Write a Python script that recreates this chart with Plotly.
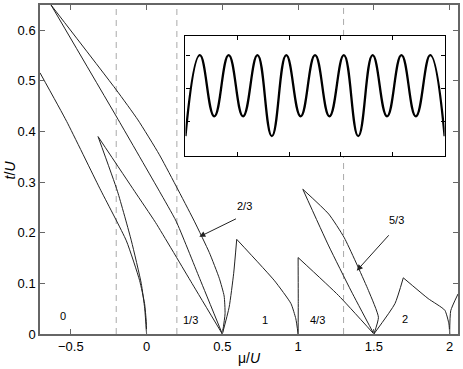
import plotly.graph_objects as go

# ---- phase boundaries (mu/U, t/U) ----
vac_mu = [-0.703, -0.527, -0.309, -0.133, -0.046, -0.013, -0.002, 0.0]
vac_t = [0.516, 0.420, 0.288, 0.184, 0.106, 0.060, 0.025, 0.0]

l13_lo_mu = [-0.320, -0.192, -0.100, -0.035, -0.012, 0.0]
l13_lo_t = [0.390, 0.282, 0.184, 0.100, 0.050, 0.0]
l13_up_mu = [-0.320, -0.079, 0.060, 0.300, 0.500]
l13_up_t = [0.390, 0.282, 0.220, 0.100, 0.0]

l23_lo_mu = [-0.630, -0.188, 0.085, 0.195, 0.350, 0.500]
l23_lo_t = [0.650, 0.424, 0.282, 0.223, 0.110, 0.0]
l23_up_mu = [-0.630, -0.199, -0.057, 0.085, 0.315, 0.414, 0.480, 0.512, 0.518, 0.500]
l23_up_t = [0.650, 0.482, 0.423, 0.354, 0.223, 0.161, 0.110, 0.075, 0.040, 0.0]

l1_left_mu = [0.500, 0.545, 0.575, 0.595]
l1_left_t = [0.0, 0.053, 0.120, 0.187]
l1_right_mu = [0.595, 0.845, 0.953, 0.985, 1.0]
l1_right_t = [0.187, 0.105, 0.060, 0.030, 0.0]

l43_left_mu = [1.0, 1.001, 1.0]
l43_left_t = [0.0, 0.060, 0.151]
l43_right_mu = [1.0, 1.267, 1.500]
l43_right_t = [0.151, 0.076, 0.0]

l53_lo_mu = [1.031, 1.202, 1.350, 1.500]
l53_lo_t = [0.286, 0.174, 0.085, 0.0]
l53_up_mu = [1.031, 1.202, 1.305, 1.464, 1.530, 1.500]
l53_up_t = [0.286, 0.237, 0.190, 0.086, 0.033, 0.0]

l2_left_mu = [1.500, 1.639, 1.694]
l2_left_t = [0.0, 0.060, 0.111]
l2_right_mu = [1.694, 1.858, 1.968, 1.995, 2.0]
l2_right_t = [0.111, 0.070, 0.047, 0.020, 0.0]

l73_mu = [2.0, 2.007, 2.055]
l73_t = [0.0, 0.046, 0.079]

boundaries = [
    (vac_mu, vac_t), (l13_lo_mu, l13_lo_t), (l13_up_mu, l13_up_t),
    (l23_lo_mu, l23_lo_t), (l23_up_mu, l23_up_t),
    (l1_left_mu, l1_left_t), (l1_right_mu, l1_right_t),
    (l43_left_mu, l43_left_t), (l43_right_mu, l43_right_t),
    (l53_lo_mu, l53_lo_t), (l53_up_mu, l53_up_t),
    (l2_left_mu, l2_left_t), (l2_right_mu, l2_right_t),
    (l73_mu, l73_t),
]

dashed_mu = [-0.2, 0.2, 1.3]

# lobe labels
label_text = ["0", "1/3", "1", "4/3", "2"]
label_mu = [-0.55, 0.289, 0.779, 1.125, 1.705]
label_t = [0.035, 0.027, 0.027, 0.027, 0.030]

# arrowed labels: text position, arrow tail, arrow head
arrow_text = ["2/3", "5/3"]
arrow_text_mu = [0.643, 1.650]
arrow_text_t = [0.253, 0.225]
arrow_tail_mu = [0.600, 1.607]
arrow_tail_t = [0.229, 0.198]
arrow_head_mu = [0.348, 1.387]
arrow_head_t = [0.192, 0.125]

# inset: superlattice potential extrema (site units)
inset_x = [0, 0.5, 1, 1.5, 2, 2.5, 3, 3.5, 4, 4.5, 5, 5.5, 6, 6.5, 7, 7.5, 8, 8.5, 9]
inset_v = [-1.45, 1, -0.85, 1, -0.85, 1, -1.45, 1, -0.85, 1, -0.85, 1,
           -1.45, 1, -0.85, 1, -0.85, 1, -1.45]

INSET_X = [0.348, 0.968]
INSET_Y = [0.541, 0.906]
FONT = "Liberation Sans, Arial, sans-serif"
AXIS_GRAY = "#666666"

fig = go.Figure()

for mu, t in boundaries:
    fig.add_trace(go.Scatter(
        x=mu, y=t, mode="lines",
        line=dict(color="#222222", width=1, shape="spline", smoothing=0.5),
        hoverinfo="skip", showlegend=False,
    ))

fig.add_trace(go.Scatter(
    x=inset_x, y=inset_v, mode="lines", xaxis="x2", yaxis="y2",
    line=dict(color="black", width=2.3, shape="spline", smoothing=1.3),
    hoverinfo="skip", showlegend=False,
))

# dashed guides (the one at 1.3 is hidden behind the inset)
shapes = []
for m in dashed_mu:
    segs = [(0, 1)]
    if m > 1.0:
        segs = [(0, INSET_Y[0]), (INSET_Y[1], 1)]
    for y0, y1 in segs:
        shapes.append(dict(type="line", xref="x", yref="paper", x0=m, x1=m, y0=y0, y1=y1,
                           line=dict(color="#aaaaaa", width=1, dash="6px,5px"), layer="below"))

annotations = []
for txt, m, t in zip(label_text, label_mu, label_t):
    annotations.append(dict(x=m, y=t, xref="x", yref="y", text=txt, showarrow=False,
                            font=dict(size=11, color="black", family=FONT)))
for i, txt in enumerate(arrow_text):
    annotations.append(dict(x=arrow_text_mu[i], y=arrow_text_t[i], xref="x", yref="y", text=txt,
                            showarrow=False, font=dict(size=11, color="black", family=FONT)))
    annotations.append(dict(x=arrow_head_mu[i], y=arrow_head_t[i], xref="x", yref="y",
                            ax=arrow_tail_mu[i], ay=arrow_tail_t[i], axref="x", ayref="y",
                            text="", showarrow=True, arrowhead=2, arrowsize=1.2,
                            arrowwidth=1, arrowcolor="#222222", standoff=0))

annotations.append(dict(x=0.5, y=-0.072, xref="paper", yref="paper", text="\u03bc/<i>U</i>",
                        xanchor="center", yanchor="middle",
                        showarrow=False, font=dict(size=14, color="black", family=FONT)))
annotations.append(dict(x=-0.072, y=0.5, xref="paper", yref="paper", text="<i>t</i>/<i>U</i>",
                        xanchor="center", yanchor="middle",
                        textangle=-90, showarrow=False, font=dict(size=14, color="black", family=FONT)))

fig.update_layout(
    width=463, height=369,
    margin=dict(l=40, r=3, t=3, b=35),
    paper_bgcolor="white", plot_bgcolor="white",
    font=dict(family=FONT, size=13, color="black"),
    xaxis=dict(range=[-0.703, 2.055], tickvals=[-0.5, 0, 0.5, 1, 1.5, 2],
               ticktext=["\u22120.5", "0", "0.5", "1", "1.5", "2"],
               ticks="inside", ticklen=5, tickcolor=AXIS_GRAY, showline=True, linecolor=AXIS_GRAY,
               linewidth=1.5, mirror="ticks", showgrid=False, zeroline=False),
    yaxis=dict(range=[0, 0.65], tickvals=[0, 0.1, 0.2, 0.3, 0.4, 0.5, 0.6],
               ticks="inside", ticklen=5, tickcolor=AXIS_GRAY, showline=True, linecolor=AXIS_GRAY,
               linewidth=1.5, mirror="ticks", showgrid=False, zeroline=False),
    xaxis2=dict(domain=INSET_X, anchor="y2", range=[0, 9], tick0=1.8, dtick=1.8,
                ticks="inside", ticklen=4, tickcolor="black", showticklabels=False,
                showline=True, linecolor="black", linewidth=1.2, mirror="ticks",
                showgrid=False, zeroline=False),
    yaxis2=dict(domain=INSET_Y, anchor="x2", range=[-2.05, 1.58], tickvals=[-1, 0, 1],
                ticks="inside", ticklen=4, tickcolor="black", showticklabels=False,
                showline=True, linecolor="black", linewidth=1.2, mirror="ticks",
                showgrid=False, zeroline=False),
    shapes=shapes,
    annotations=annotations,
)

# the page's default 8px body margin would push the figure out of the window
fig.write_html("out.html", config={"displayModeBar": False},
               post_script="document.body.style.margin='0';")
